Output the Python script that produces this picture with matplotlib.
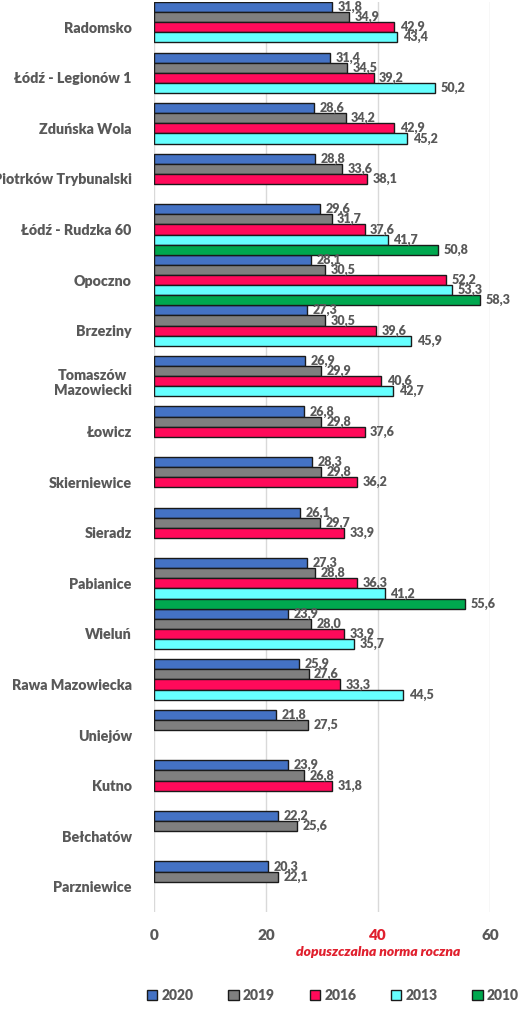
import numpy as np
import matplotlib
matplotlib.use("Agg")
import matplotlib.pyplot as plt
from matplotlib.patches import Patch

plt.rcParams["font.family"] = ["Lato", "DejaVu Sans"]

STATIONS = ["Radomsko", "Łódź - Legionów 1", "Zduńska Wola", "Piotrków Trybunalski",
            "Łódź - Rudzka 60", "Opoczno", "Brzeziny", "Tomaszów\nMazowiecki", "Łowicz",
            "Skierniewice", "Sieradz", "Pabianice", "Wieluń", "Rawa Mazowiecka",
            "Uniejów", "Kutno", "Bełchatów", "Parzniewice"]
YEARS = ["2020", "2019", "2016", "2013", "2010"]
nan = np.nan
V2020 = [31.8, 31.4, 28.6, 28.8, 29.6, 28.1, 27.3, 26.9, 26.8, 28.3, 26.1, 27.3, 23.9,
         25.9, 21.8, 23.9, 22.2, 20.3]
V2019 = [34.9, 34.5, 34.2, 33.6, 31.7, 30.5, 30.5, 29.9, 29.8, 29.8, 29.7, 28.8, 28.0,
         27.6, 27.5, 26.8, 25.6, 22.1]
V2016 = [42.9, 39.2, 42.9, 38.1, 37.6, 52.2, 39.6, 40.6, 37.6, 36.2, 33.9, 36.3, 33.9,
         33.3, nan, 31.8, nan, nan]
V2013 = [43.4, 50.2, 45.2, nan, 41.7, 53.3, 45.9, 42.7, nan, nan, nan, 41.2, 35.7,
         44.5, nan, nan, nan, nan]
V2010 = [nan, nan, nan, nan, 50.8, 58.3, nan, nan, nan, nan, nan, 55.6, nan,
         nan, nan, nan, nan, nan]
SERIES = [V2020, V2019, V2016, V2013, V2010]
COLORS = ["#4472C4", "#7F7F7F", "#FF0A5A", "#66FFFF", "#00A84F"]
TICKS = [0, 20, 40, 60]

TXT = "#595959"
RED = "#E0202E"
EDGE = "#1a1a1a"

fig = plt.figure(figsize=(5.28, 10.09), dpi=100)
ax = fig.add_axes([154 / 528, 1 - 912 / 1009, 336 / 528, 910 / 1009])

y = np.arange(len(STATIONS))
h = 0.2
for j, (vals, col) in enumerate(zip(SERIES, COLORS)):
    vals = np.array(vals, dtype=float)
    pos = y + (j - 2) * h
    ok = ~np.isnan(vals)
    ax.barh(pos[ok], vals[ok], height=h, color=col, edgecolor=EDGE, linewidth=1.0, zorder=3)
    for p, v in zip(pos[ok], vals[ok]):
        ax.annotate(f"{v:.1f}".replace(".", ","), (v, p), xytext=(4, 0),
                    textcoords="offset points", va="center", ha="left",
                    fontsize=9, fontweight="heavy", color=TXT, zorder=4)

ax.set_ylim(len(STATIONS) - 0.5, -0.5)
ax.set_xlim(0, 60)
ax.set_yticks(y)
ax.set_yticklabels(STATIONS, fontsize=10.3, fontweight="heavy", color=TXT,
                   multialignment="center")
ax.set_xticks(TICKS)
ax.set_xticklabels([str(t) for t in TICKS], fontsize=11, fontweight="heavy", color=TXT)
ax.get_xticklabels()[2].set_color(RED)
ax.tick_params(length=0, axis="y", pad=16)
ax.tick_params(length=0, axis="x", pad=12)
ax.grid(axis="x", color="#D9D9D9", linewidth=1.0, zorder=0)
for s in ax.spines.values():
    s.set_visible(False)

fig.text(378 / 528, 1 - 952 / 1009, "dopuszczalna norma roczna", ha="center", va="center",
         fontsize=10, fontstyle="italic", fontweight="heavy", color=RED)

handles = [Patch(facecolor=c, edgecolor=EDGE, linewidth=1.0) for c in COLORS]
leg = fig.legend(handles, YEARS, loc="center", bbox_to_anchor=(333 / 528, 1 - 995 / 1009),
                 ncol=5, frameon=False, fontsize=10, handlelength=0.75, handleheight=0.75,
                 handletextpad=0.3, columnspacing=2.5)
for t in leg.get_texts():
    t.set_color(TXT)
    t.set_fontweight("heavy")

fig.savefig("out.png", dpi=100)
